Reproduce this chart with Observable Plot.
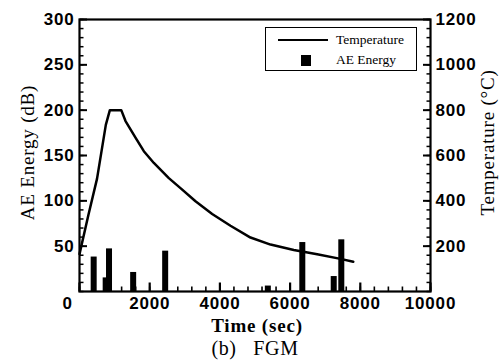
<!DOCTYPE html>
<html>
<head>
<meta charset="utf-8">
<script src="https://cdn.jsdelivr.net/npm/d3@7"></script>
<script src="https://cdn.jsdelivr.net/npm/@observablehq/plot@0.6"></script>
<style>
  html, body { margin: 0; padding: 0; background: #fff; }
  #wrap { position: relative; width: 502px; height: 361px; overflow: hidden; }
  #chart svg { display: block; }
  #legend { position: absolute; left: 265px; top: 27px; width: 150px; height: 42px;
            border: 1px solid #000; font-family: "Liberation Serif", serif; font-size: 13.5px; color: #000; }
  #legend .row { position: absolute; left: 0; width: 150px; height: 18px; }
  #legend .line { position: absolute; left: 12px; top: 8px; width: 50px; height: 2px; background: #000; }
  #legend .sq { position: absolute; left: 35px; top: 4px; width: 10px; height: 11px; background: #000; }
  #legend .lab { position: absolute; left: 70px; top: 0px; line-height: 18px; }
  #caption { position: absolute; left: 0; top: 336px; width: 510px; text-align: center;
             font-family: "Liberation Serif", serif; font-size: 20px; letter-spacing: 0.6px;
             white-space: pre; line-height: 24px; color: #000; }
</style>
</head>
<body>
<div id="wrap">
  <div id="chart"></div>
  <div id="legend">
    <div class="row" style="top:3px"><div class="line"></div><div class="lab">Temperature</div></div>
    <div class="row" style="top:23px"><div class="sq"></div><div class="lab">AE Energy</div></div>
  </div>
  <div id="caption">(b)   FGM</div>
</div>
<script>
// Temperature curve (°C) vs time (sec)
const tempTime = [0, 250, 500, 750, 865, 1190, 1311, 1595, 1833, 2118, 2545, 2877, 3305, 3780, 4302, 4872, 5442, 6105, 6772, 7436, 7800];
const temperature = [165, 335, 498, 735, 800, 800, 752, 679, 619, 567, 500, 456, 398, 342, 290, 238, 207, 183, 164, 144, 131];

// AE energy bars (dB) vs time (sec)
const aeTime = [418, 760, 855, 1543, 2455, 5380, 6362, 7257, 7473];
const aeEnergy = [38, 15, 47, 21, 44.5, 6, 54, 16.5, 57];

// Axis ticks
const xTicks = [0, 2000, 4000, 6000, 8000, 10000];
const xMinor = d3.range(0, 10001, 400);
const yTicks = [50, 100, 150, 200, 250, 300];
const yMinor = d3.range(0, 301, 10);
const tempTicks = [200, 400, 600, 800, 1000, 1200];
const tempMinor = d3.range(0, 1201, 40);
const tempFactor = 4; // 1200 °C on right axis ↔ 300 dB on left axis

const tempData = tempTime.map((t, i) => ({t, v: temperature[i] / tempFactor}));
const aeData = aeTime.map((t, i) => ({t, e: aeEnergy[i]}));

const W = 502, H = 338;
const mL = 79, mR = 72, mT = 19, mB = H - 291;
const plotH = H - mT - mB;
const xPerPx = 10000 / (W - mL - mR);
const yPerPx = 300 / plotH;

const serif = "Liberation Serif";
const sans = "Liberation Sans";
const tickFont = {fontSize: 17, fontWeight: "bold", fontFamily: sans};

// inward tick marks, drawn as short links: same construction for all three axes
const xTickMark = (ticks, len, sw) =>
  Plot.link(ticks.map(t => ({t, a: 0, b: len * yPerPx})), {x1: "t", x2: "t", y1: "a", y2: "b", stroke: "#000", strokeWidth: sw});
const yTickMark = (ticks, fy, x0, x1, sw) =>
  Plot.link(ticks.map(d => ({v: fy(d), a: x0, b: x1})), {y1: "v", y2: "v", x1: "a", x2: "b", stroke: "#000", strokeWidth: sw});

const chart = Plot.plot({
  width: W, height: H,
  marginLeft: mL, marginRight: mR, marginTop: mT, marginBottom: mB,
  style: {fontFamily: sans, fontSize: "17px", fontWeight: "bold", color: "#000", background: "#fff", letterSpacing: "0.8px"},
  x: {domain: [0, 10000]},
  y: {domain: [0, 300]},
  marks: [
    // inward ticks, x axis
    xTickMark(xMinor, 5, 1.6),
    xTickMark(xTicks, 9, 2.2),
    // inward ticks, left axis
    yTickMark(yMinor, d => d, 0, 4 * xPerPx, 1.5),
    yTickMark(yTicks, d => d, 0, 7.5 * xPerPx, 2),
    // inward ticks, right axis
    yTickMark(tempMinor, d => d / tempFactor, 10000 - 4 * xPerPx, 10000, 1.5),
    yTickMark(tempTicks, d => d / tempFactor, 10000 - 7.5 * xPerPx, 10000, 2),
    // AE energy bars
    Plot.rectY(aeData, {x1: d => d.t - 3 * xPerPx, x2: d => d.t + 3 * xPerPx, y1: 0, y2: "e", fill: "#000"}),
    // temperature line
    Plot.line(tempData, {x: "t", y: "v", stroke: "#000", strokeWidth: 2.5, curve: "linear"}),
    Plot.frame({stroke: "#000", strokeWidth: 2.2}),
    // axes
    Plot.axisX(xTicks.filter(d => d > 0), {anchor: "bottom", tickSize: 0, tickPadding: 5, tickFormat: d => String(d), label: null, ...tickFont}),
    Plot.text(xTicks.filter(d => d === 0), {x: d => d, frameAnchor: "bottom", lineAnchor: "top", dx: -12, dy: 5, text: d => String(d), ...tickFont}),
    Plot.axisY(yTicks, {anchor: "left", tickSize: 0, tickPadding: 5, tickFormat: d => String(d), label: null, ...tickFont}),
    Plot.axisY(tempTicks.map(d => d / tempFactor), {anchor: "right", tickSize: 0, tickPadding: 5, tickFormat: (d, i) => String(tempTicks[i]), label: null, ...tickFont}),
    // axis titles
    Plot.text(["AE Energy (dB)"], {frameAnchor: "left", textAnchor: "middle", lineAnchor: "middle", dx: -52, dy: -3, rotate: -90, text: d => d, fontFamily: serif, fontSize: 19, fontWeight: "normal"}),
    Plot.text(["Temperature (°C)"], {frameAnchor: "right", textAnchor: "middle", lineAnchor: "middle", dx: 57, dy: -13, rotate: -90, text: d => d, fontFamily: serif, fontSize: 19, fontWeight: "normal"}),
    Plot.text(["Time (sec)"], {frameAnchor: "bottom", textAnchor: "middle", lineAnchor: "middle", dx: 2, dy: 34, text: d => d, fontFamily: serif, fontSize: 19, fontWeight: "bold", letterSpacing: "1px"})
  ]
});
document.getElementById("chart").appendChild(chart);
</script>
</body>
</html>
